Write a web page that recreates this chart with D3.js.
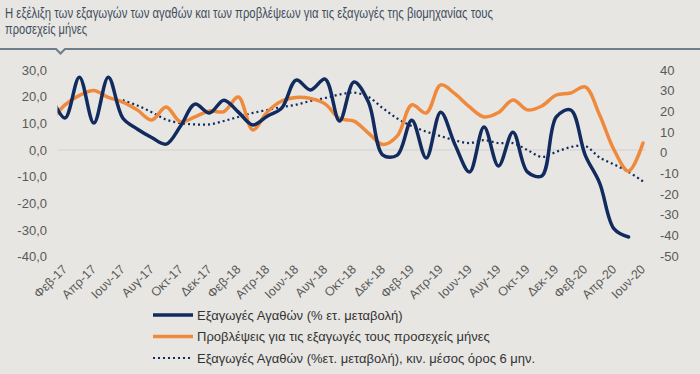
<!DOCTYPE html>
<html>
<head>
<meta charset="utf-8">
<script src="https://cdn.jsdelivr.net/npm/d3@7"></script>
<style>
  body { margin: 0; background: #e7e6e2; }
  svg { display: block; font-family: "Liberation Sans", Arial, sans-serif; }
</style>
</head>
<body>
<div id="chart"></div>
<script>
var width = 700, height = 374;

// months Jan-17 .. Jun-20 (Jan-17 sits just outside the plot area)
var months = ["Ιαν-17","Φεβ-17","Μαρ-17","Απρ-17","Μαϊ-17","Ιουν-17","Ιουλ-17","Αυγ-17","Σεπ-17","Οκτ-17","Νοε-17","Δεκ-17",
  "Ιαν-18","Φεβ-18","Μαρ-18","Απρ-18","Μαϊ-18","Ιουν-18","Ιουλ-18","Αυγ-18","Σεπ-18","Οκτ-18","Νοε-18","Δεκ-18",
  "Ιαν-19","Φεβ-19","Μαρ-19","Απρ-19","Μαϊ-19","Ιουν-19","Ιουλ-19","Αυγ-19","Σεπ-19","Οκτ-19","Νοε-19","Δεκ-19",
  "Ιαν-20","Φεβ-20","Μαρ-20","Απρ-20","Μαϊ-20","Ιουν-20"];

var tickMonths = ["Φεβ-17","Απρ-17","Ιουν-17","Αυγ-17","Οκτ-17","Δεκ-17","Φεβ-18","Απρ-18","Ιουν-18","Αυγ-18","Οκτ-18",
  "Δεκ-18","Φεβ-19","Απρ-19","Ιουν-19","Αυγ-19","Οκτ-19","Δεκ-19","Φεβ-20","Απρ-20","Ιουν-20"];

// exports of goods, % y/y (left axis), Jan-17 .. May-20
var exportsYoY = [20.6, 12.0, 27.3, 10.1, 27.3, 12.0, 7.9, 4.7, 2.2, 9.0, 17.2, 13.9,
  18.7, 14.2, 9.4, 12.7, 15.7, 26.2, 22.5, 26.6, 10.9, 25.5, 18.0, -1.9,
  -1.9, 11.2, -3.0, 14.2, 1.9, -8.2, 8.6, -6.0, 6.7, -8.2, -9.7, 12.4,
  15.0, -1.9, -12.4, -29.6, -32.6];

// industry export expectations for the coming months (right axis), Jan-17 .. Jun-20
var expectations = [14.9, 23.1, 27.7, 30.1, 26.7, 24.5, 20.7, 15.8, 22.1, 14.9, 17.3, 20.2,
  19.9, 26.9, 11.0, 19.7, 25.0, 26.7, 26.2, 23.6, 16.5, 15.3, 9.5, 4.0,
  8.1, 23.1, 19.2, 32.8, 28.4, 22.1, 17.3, 19.4, 25.5, 20.7, 22.6, 27.9,
  28.9, 31.8, 18.2, 1.3, -8.9, 4.7];

// 6-month moving average of exports (left axis), Jun-17 .. Jun-20
var movingAvg = [18.7, 16.7, 14.2, 11.4, 10.1, 9.6, 9.6,
  10.9, 12.4, 13.9, 15.0, 16.1, 17.0, 18.4, 19.5, 20.8, 21.5, 19.9, 15.7,
  11.8, 9.0, 6.9, 5.2, 3.6, 2.6, 3.7, 2.6, 2.6, 0.0, -2.6, -0.7,
  1.1, 1.5, -2.8, -5.4, -8.2, -11.8];

var leftTicks = [30, 20, 10, 0, -10, -20, -30, -40];
var rightTicks = [40, 30, 20, 10, 0, -10, -20, -30, -40, -50];

var legendLabels = ["Εξαγωγές  Αγαθών (% ετ. μεταβολή)",
  "Προβλέψεις για τις εξαγωγές  τους προσεχείς μήνες",
  "Εξαγωγές  Αγαθών (%ετ. μεταβολή), κιν. μέσος όρος 6 μην."];

var navy = "#122b5e", orange = "#ef8a3d", grey = "#595959";

var svg = d3.select("#chart").append("svg")
    .attr("width", width)
    .attr("height", height);

// title
var title = svg.append("g").attr("fill", "#3f4e5e").style("font-size", "15px");
title.append("text").attr("x", 5).attr("y", 18)
    .attr("textLength", 488).attr("lengthAdjust", "spacingAndGlyphs")
    .text("Η εξέλιξη των εξαγωγών των αγαθών και των προβλέψεων για τις εξαγωγές της βιομηχανίας τους");
title.append("text").attr("x", 5).attr("y", 34)
    .attr("textLength", 82).attr("lengthAdjust", "spacingAndGlyphs")
    .text("προσεχείς μήνες");

// rule under the title with a small notch
svg.append("path")
    .attr("d", "M0,49H56L60.5,53.5L65,49H700")
    .attr("fill", "none")
    .attr("stroke", "#6e7d8b")
    .attr("stroke-width", 2);

var x = d3.scalePoint().domain(months).range([50.5, 643]);
var yL = d3.scaleLinear().domain([-40, 30]).range([256.7, 70]);
var yR = d3.scaleLinear().domain([-50, 40]).range([256, 70]);

function fmtL(d) { return d3.format(".1f")(d).replace("−", "-").replace(".", ","); }
function fmtR(d) { return String(d); }

// left axis
var gL = svg.append("g")
    .attr("transform", "translate(47,0)")
    .call(d3.axisLeft(yL).tickValues(leftTicks).tickSize(0).tickPadding(0).tickFormat(fmtL));
gL.select(".domain").remove();
gL.selectAll("text").attr("fill", grey).style("font-size", "13px").style("font-family", "inherit");

// right axis
var gR = svg.append("g")
    .attr("transform", "translate(660,0)")
    .call(d3.axisRight(yR).tickValues(rightTicks).tickSize(0).tickPadding(0).tickFormat(fmtR));
gR.select(".domain").remove();
gR.selectAll("text").attr("fill", grey).style("font-size", "13px").style("font-family", "inherit");

// zero line
svg.append("line")
    .attr("x1", 57.5).attr("x2", 646)
    .attr("y1", yL(0)).attr("y2", yL(0))
    .attr("stroke", "#d2d1cd").attr("stroke-width", 1);

// x labels, rotated
svg.append("g").selectAll("text")
    .data(tickMonths)
    .enter().append("text")
    .attr("transform", function(d) { return "translate(" + (x(d) + 3) + ",270) rotate(-45)"; })
    .attr("text-anchor", "end")
    .attr("fill", grey)
    .style("font-size", "12.5px")
    .text(function(d) { return d; });

svg.append("clipPath").attr("id", "plot")
  .append("rect").attr("x", 57.5).attr("y", 55).attr("width", 600).attr("height", 210);

var plot = svg.append("g").attr("clip-path", "url(#plot)");

var lineL = d3.line().curve(d3.curveCatmullRom)
    .x(function(d) { return x(d[0]); })
    .y(function(d) { return yL(d[1]); });
var lineR = d3.line().curve(d3.curveCatmullRom)
    .x(function(d) { return x(d[0]); })
    .y(function(d) { return yR(d[1]); });

var avgData = movingAvg.map(function(v, i) { return [months[i + 5], v]; });
var expData = exportsYoY.map(function(v, i) { return [months[i], v]; });
var fcData = expectations.map(function(v, i) { return [months[i], v]; });

plot.append("path").datum(avgData)
    .attr("d", lineL)
    .attr("fill", "none").attr("stroke", navy)
    .attr("stroke-width", 2.2).attr("stroke-dasharray", "2,3");

plot.append("path").datum(fcData)
    .attr("d", lineR)
    .attr("fill", "none").attr("stroke", orange)
    .attr("stroke-width", 3.5).attr("stroke-linecap", "round");

plot.append("path").datum(expData)
    .attr("d", lineL)
    .attr("fill", "none").attr("stroke", navy)
    .attr("stroke-width", 3.5).attr("stroke-linecap", "round");

// legend
var legendStyles = [
  {stroke: navy, w: 3.5, dash: null},
  {stroke: orange, w: 3.5, dash: null},
  {stroke: navy, w: 2.2, dash: "2,3"}
];
var leg = svg.append("g").selectAll("g")
    .data(legendLabels)
    .enter().append("g")
    .attr("transform", function(d, i) { return "translate(153," + (315 + i * 21.5) + ")"; });
leg.append("line")
    .attr("x1", 0).attr("x2", 40)
    .attr("stroke", function(d, i) { return legendStyles[i].stroke; })
    .attr("stroke-width", function(d, i) { return legendStyles[i].w; })
    .attr("stroke-dasharray", function(d, i) { return legendStyles[i].dash; });
leg.append("text")
    .attr("x", 44).attr("y", 4.5)
    .attr("fill", "#333")
    .style("font-size", "13px")
    .text(function(d) { return d; });
</script>
</body>
</html>
